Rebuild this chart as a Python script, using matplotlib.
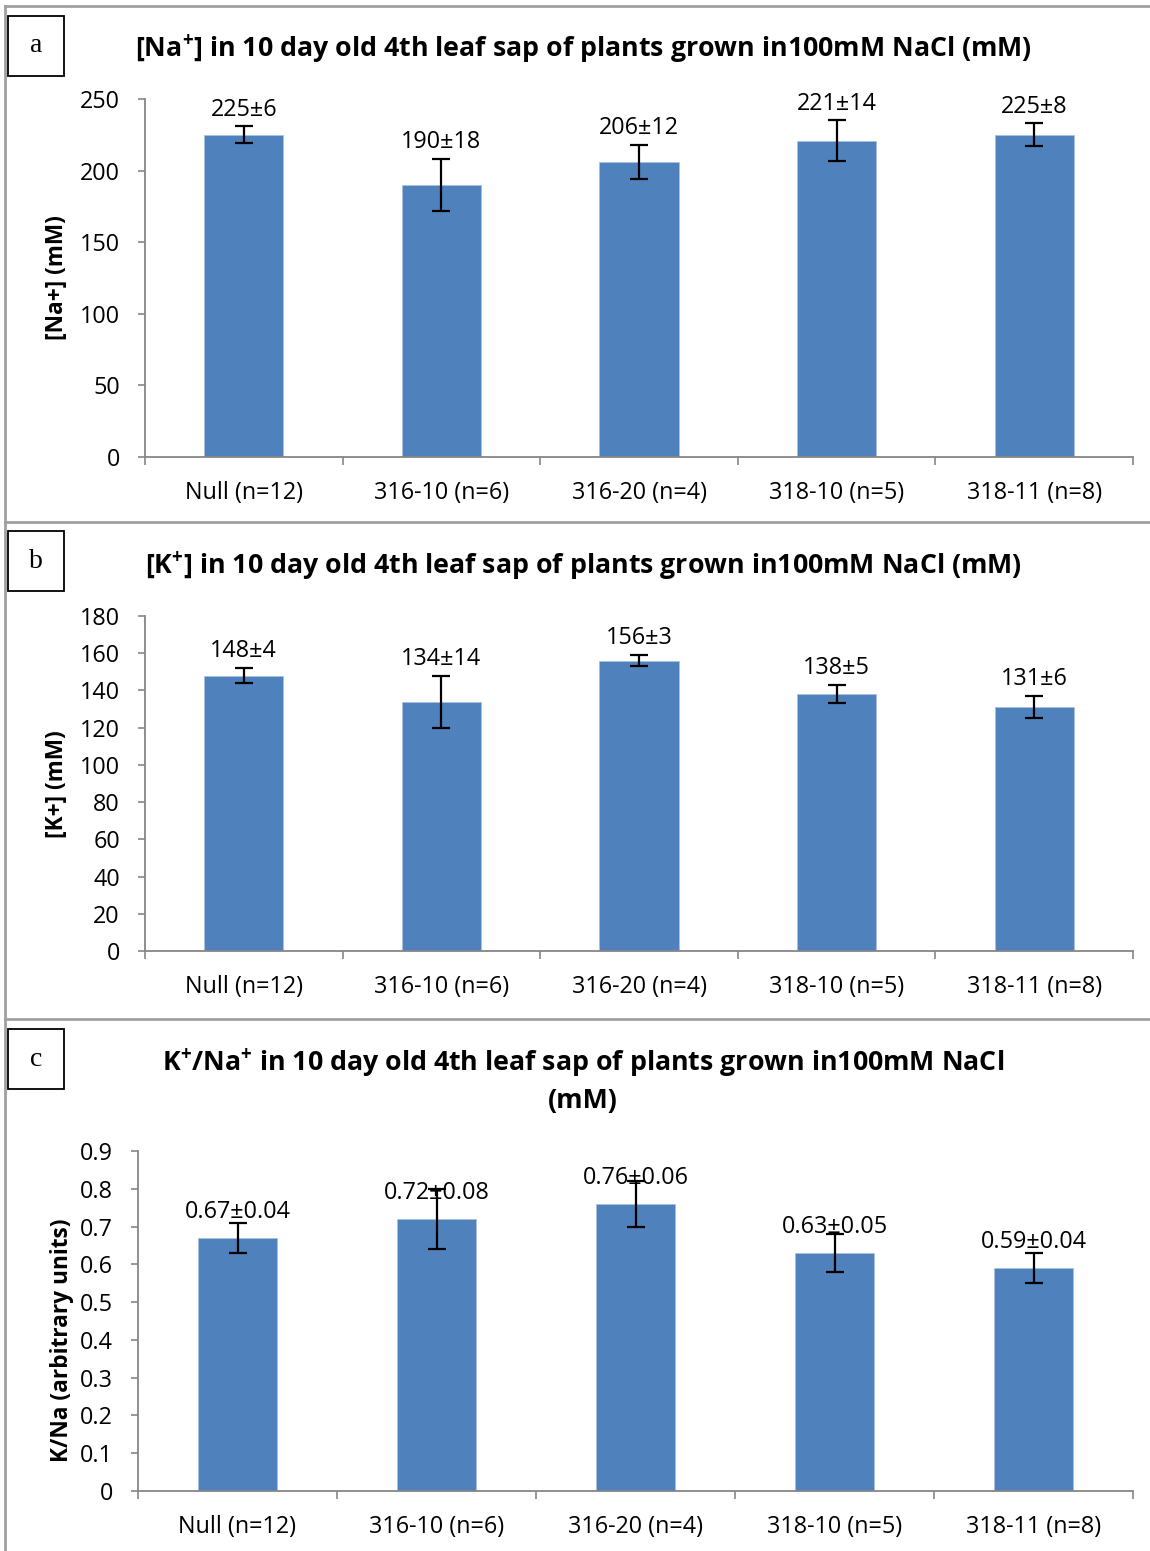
import numpy as np
import matplotlib
matplotlib.use("Agg")
import matplotlib.pyplot as plt
from matplotlib.patches import Rectangle
from matplotlib.lines import Line2D

plt.rcParams['font.family'] = ['Open Sans', 'DejaVu Sans']
plt.rcParams['mathtext.fontset'] = 'custom'
plt.rcParams['mathtext.rm'] = 'Open Sans'
plt.rcParams['mathtext.bf'] = 'Open Sans:bold'

# line data
lines = ['Null (n=12)', '316-10 (n=6)', '316-20 (n=4)', '318-10 (n=5)', '318-11 (n=8)']

na_mean = [225, 190, 206, 221, 225]
na_err = [6, 18, 12, 14, 8]

k_mean = [148, 134, 156, 138, 131]
k_err = [4, 14, 3, 5, 6]

ratio_mean = [0.67, 0.72, 0.76, 0.63, 0.59]
ratio_err = [0.04, 0.08, 0.06, 0.05, 0.04]

W, H = 1150, 1551
fig = plt.figure(figsize=(W / 100, H / 100), dpi=100)

BAR = '#4F81BD'
AXC = '#868686'
FS = 16.8


def px(x, y):
    # pixel -> figure fraction
    return x / W, 1 - y / H


def panel(rect, means, errs, ylim, step, fmt, ylabel, ylab_xy, label_mode, off):
    ax = fig.add_axes(rect)
    x = np.arange(len(means))
    ax.bar(x, means, width=0.4, color=BAR, edgecolor='#a9c0de', linewidth=0.6, zorder=2)
    ax.errorbar(x, means, yerr=errs, fmt='none', ecolor='black', elinewidth=1.6,
                capsize=6.5, capthick=1.6, zorder=3)
    for xi, m, e in zip(x, means, errs):
        base = m + e if label_mode == 'err' else m
        ax.annotate(fmt(m, e), (xi, base), xytext=(0, off), textcoords='offset points',
                    ha='center', va='center', fontsize=FS)
    ax.set_xlim(-0.5, len(means) - 0.5)
    ax.set_ylim(0, ylim)
    ax.set_yticks(np.arange(0, ylim + step / 2, step))
    if step < 1:
        ax.set_yticklabels(['0'] + ['%.1f' % v for v in np.arange(step, ylim + step / 2, step)])
    ax.set_xticks(np.arange(-0.5, len(means), 1.0))
    ax.set_xticklabels([])
    ax.set_xticks(x, minor=True)
    ax.set_xticklabels(lines, minor=True, fontsize=FS)
    ax.tick_params(axis='x', which='major', length=6, width=1.2, color=AXC)
    ax.tick_params(axis='x', which='minor', length=0, pad=17)
    ax.tick_params(axis='y', length=5, width=1.2, color=AXC, labelsize=FS, pad=13)
    for s in ('top', 'right'):
        ax.spines[s].set_visible(False)
    for s in ('left', 'bottom'):
        ax.spines[s].set_color(AXC)
        ax.spines[s].set_linewidth(1.3)
    fx, fy = px(*ylab_xy)
    fig.text(fx, fy, ylabel, rotation=90, ha='center', va='center',
             fontsize=16.3, fontweight='bold')
    return ax


def letter_box(x0, y0, x1, y1, txt):
    fx0, fy1 = px(x0, y1)
    fx1, fy0 = px(x1, y0)
    fig.add_artist(Rectangle((fx0, fy1), fx1 - fx0, fy0 - fy1, transform=fig.transFigure,
                             fill=False, edgecolor='black', linewidth=1.3))
    cx, cy = px((x0 + x1) / 2, (y0 + y1) / 2)
    fig.text(cx, cy, txt, ha='center', va='center', fontsize=20,
             family='Liberation Serif')


def title(y, txt):
    cx, cy = px(583, y)
    fig.text(cx, cy, txt, ha='center', va='center', fontsize=19.3, fontweight='bold')


# frame lines around the three panels
GRID = '#a0a0a0'
for y in (6, 522, 1019):
    fx0, fy = px(5, y)
    fig.add_artist(Line2D([fx0, 1.0], [fy, fy], transform=fig.transFigure,
                          color=GRID, linewidth=2))
fx, _ = px(5, 0)
fig.add_artist(Line2D([fx, fx], [0, px(0, 6)[1]], transform=fig.transFigure,
                      color=GRID, linewidth=2))

SUP = r'$^{\mathbf{+}}$'

# a
panel([145 / W, 1 - 457 / H, 988 / W, 358 / H], na_mean, na_err, 250, 50,
      lambda m, e: '%d\u00b1%d' % (m, e), '[Na+] (mM)', (57, 278), 'err', 12)
letter_box(8, 16, 64, 76, 'a')
title(49, '[Na' + SUP + '] in 10 day old 4th leaf sap of plants grown in100mM NaCl (mM)')

# b
panel([145 / W, 1 - 951 / H, 988 / W, 335 / H], k_mean, k_err, 180, 20,
      lambda m, e: '%d\u00b1%d' % (m, e), '[K+] (mM)', (57, 784), 'err', 12)
letter_box(8, 531, 64, 591, 'b')
title(566, '[K' + SUP + '] in 10 day old 4th leaf sap of plants grown in100mM NaCl (mM)')

# c
panel([138 / W, 1 - 1491 / H, 995 / W, 340 / H], ratio_mean, ratio_err, 0.9, 0.1,
      lambda m, e: '%.2f\u00b1%.2f' % (m, e), 'K/Na (arbitrary units)', (62, 1340),
      'bar', 19)
letter_box(8, 1029, 64, 1089, 'c')
title(1063, 'K' + SUP + '/Na' + SUP + ' in 10 day old 4th leaf sap of plants grown in100mM NaCl')
title(1101, '(mM)')

fig.savefig('out.png', dpi=100)
